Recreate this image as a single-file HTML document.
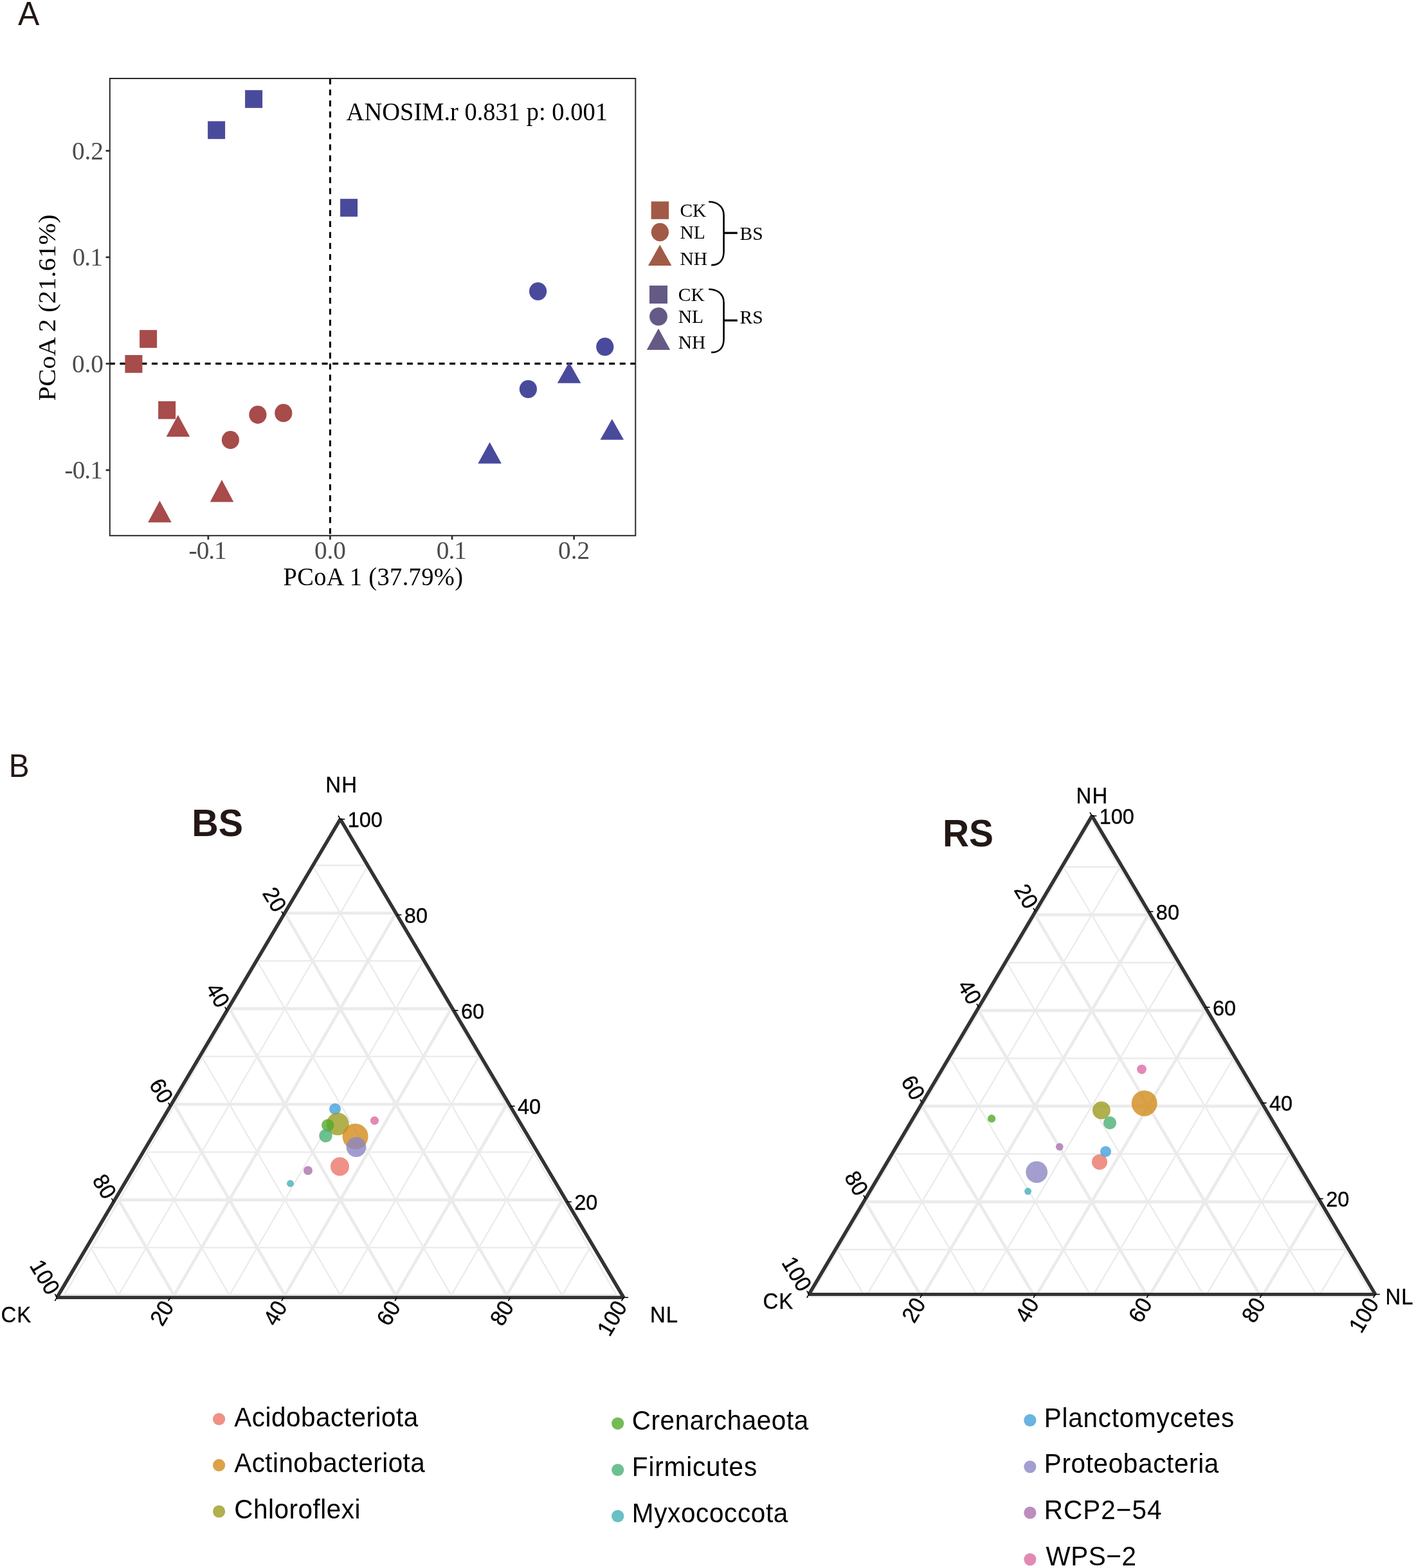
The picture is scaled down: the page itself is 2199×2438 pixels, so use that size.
<!DOCTYPE html>
<html lang="en">
<head>
<meta charset="utf-8">
<title>PCoA and ternary plots</title>
<style>
html,body{margin:0;padding:0;background:#fff;}
html,body{width:2199px;height:2438px;}
svg{display:block;}
text{white-space:pre;}
</style>
</head>
<body>
<svg width="2199" height="2438" viewBox="0 0 2199 2438">
<rect x="0" y="0" width="2199" height="2438" fill="#ffffff"/>
<g id="panelA">
<line x1="513.45" y1="122.0" x2="513.45" y2="832.8" stroke="#000" stroke-width="3.1" stroke-dasharray="9.2 7.85" stroke-dashoffset="16.95"/>
<line x1="170.8" y1="565.45" x2="988.3" y2="565.45" stroke="#000" stroke-width="3.2" stroke-dasharray="9 7.54" stroke-dashoffset="0.99"/>
<rect x="217.10" y="513.15" width="27.00" height="27.70" fill="#a74b4b"/>
<rect x="194.40" y="552.05" width="27.00" height="27.70" fill="#a74b4b"/>
<rect x="246.10" y="623.85" width="27.00" height="27.70" fill="#a74b4b"/>
<rect x="381.10" y="140.15" width="27.00" height="27.70" fill="#4a4a9d"/>
<rect x="323.10" y="188.45" width="27.00" height="27.70" fill="#4a4a9d"/>
<rect x="529.10" y="309.15" width="27.00" height="27.70" fill="#4a4a9d"/>
<ellipse cx="358.40" cy="684.10" rx="13.60" ry="14.10" fill="#a74b4b"/>
<ellipse cx="400.90" cy="644.80" rx="13.60" ry="14.10" fill="#a74b4b"/>
<ellipse cx="440.80" cy="642.20" rx="13.60" ry="14.10" fill="#a74b4b"/>
<ellipse cx="836.60" cy="453.00" rx="13.60" ry="14.10" fill="#4a4a9d"/>
<ellipse cx="940.80" cy="539.20" rx="13.60" ry="14.10" fill="#4a4a9d"/>
<ellipse cx="821.40" cy="605.00" rx="13.60" ry="14.10" fill="#4a4a9d"/>
<polygon points="276.90,645.20 295.20,679.10 258.60,679.10" fill="#a74b4b"/>
<polygon points="345.00,746.10 363.30,780.40 326.70,780.40" fill="#a74b4b"/>
<polygon points="248.40,778.40 266.70,812.30 230.10,812.30" fill="#a74b4b"/>
<polygon points="885.10,563.30 903.40,595.80 866.80,595.80" fill="#4a4a9d"/>
<polygon points="951.80,651.40 970.10,683.80 933.50,683.80" fill="#4a4a9d"/>
<polygon points="761.60,687.60 779.90,720.80 743.30,720.80" fill="#4a4a9d"/>
<rect x="170.8" y="122.0" width="817.50" height="710.80" fill="none" stroke="#2a2a2a" stroke-width="2"/>
<line x1="323.85" y1="832.8" x2="323.85" y2="839.0" stroke="#333" stroke-width="2.8"/>
<text transform="translate(322.65 869.2) scale(1 1.04)" font-family='"Liberation Serif", "DejaVu Serif", serif' font-size="39.3" fill="#4d4d4d" text-anchor="middle" letter-spacing="-1.0">-0.1</text>
<line x1="513.45" y1="832.8" x2="513.45" y2="839.0" stroke="#333" stroke-width="2.8"/>
<text transform="translate(513.45 869.2) scale(1 1.04)" font-family='"Liberation Serif", "DejaVu Serif", serif' font-size="39.3" fill="#4d4d4d" text-anchor="middle">0.0</text>
<line x1="703.05" y1="832.8" x2="703.05" y2="839.0" stroke="#333" stroke-width="2.8"/>
<text transform="translate(701.85 869.2) scale(1 1.04)" font-family='"Liberation Serif", "DejaVu Serif", serif' font-size="39.3" fill="#4d4d4d" text-anchor="middle" letter-spacing="-1.0">0.1</text>
<line x1="892.65" y1="832.8" x2="892.65" y2="839.0" stroke="#333" stroke-width="2.8"/>
<text transform="translate(892.65 869.2) scale(1 1.04)" font-family='"Liberation Serif", "DejaVu Serif", serif' font-size="39.3" fill="#4d4d4d" text-anchor="middle">0.2</text>
<line x1="164.60000000000002" y1="730.95" x2="170.8" y2="730.95" stroke="#333" stroke-width="2.8"/>
<text transform="translate(158.80 744.35) scale(1 1.04)" font-family='"Liberation Serif", "DejaVu Serif", serif' font-size="39.3" fill="#4d4d4d" text-anchor="end" letter-spacing="-1.0">-0.1</text>
<line x1="164.60000000000002" y1="565.45" x2="170.8" y2="565.45" stroke="#333" stroke-width="2.8"/>
<text transform="translate(161.00 578.85) scale(1 1.04)" font-family='"Liberation Serif", "DejaVu Serif", serif' font-size="39.3" fill="#4d4d4d" text-anchor="end">0.0</text>
<line x1="164.60000000000002" y1="399.95" x2="170.8" y2="399.95" stroke="#333" stroke-width="2.8"/>
<text transform="translate(158.80 413.35) scale(1 1.04)" font-family='"Liberation Serif", "DejaVu Serif", serif' font-size="39.3" fill="#4d4d4d" text-anchor="end" letter-spacing="-1.0">0.1</text>
<line x1="164.60000000000002" y1="234.45" x2="170.8" y2="234.45" stroke="#333" stroke-width="2.8"/>
<text transform="translate(161.00 247.85) scale(1 1.04)" font-family='"Liberation Serif", "DejaVu Serif", serif' font-size="39.3" fill="#4d4d4d" text-anchor="end">0.2</text>
<text transform="translate(580.4 910.2) scale(1 1.04)" font-family='"Liberation Serif", "DejaVu Serif", serif' font-size="38.5" fill="#000" text-anchor="middle" letter-spacing="0.34">PCoA 1 (37.79%)</text>
<text transform="translate(86.4 478.4) rotate(-90) scale(1.055 1)" font-family='"Liberation Serif", "DejaVu Serif", serif' font-size="38.5" fill="#000" text-anchor="middle">PCoA 2 (21.61%)</text>
<text transform="translate(538.6 187.3) scale(1 1.04)" font-family='"Liberation Serif", "DejaVu Serif", serif' font-size="38.5" fill="#000">ANOSIM.r 0.831 p: 0.001</text>
<rect x="1012.65" y="313.25" width="27.50" height="27.50" fill="#a15a46"/>
<ellipse cx="1026.40" cy="361.00" rx="13.60" ry="14.30" fill="#a15a46"/>
<polygon points="1026.20,380.60 1044.45,413.00 1007.95,413.00" fill="#a15a46"/>
<rect x="1010.00" y="444.00" width="28.00" height="28.00" fill="#655a86"/>
<ellipse cx="1024.00" cy="492.20" rx="13.90" ry="14.10" fill="#655a86"/>
<polygon points="1024.00,510.80 1042.25,544.00 1005.75,544.00" fill="#655a86"/>
<text x="1057.4" y="336.9" font-family='"Liberation Serif", "DejaVu Serif", serif' font-size="29.5" fill="#000">CK</text>
<text x="1057.4" y="371.0" font-family='"Liberation Serif", "DejaVu Serif", serif' font-size="29.5" fill="#000">NL</text>
<text x="1057.4" y="411.6" font-family='"Liberation Serif", "DejaVu Serif", serif' font-size="29.5" fill="#000">NH</text>
<text x="1054.8" y="467.5" font-family='"Liberation Serif", "DejaVu Serif", serif' font-size="29.5" fill="#000">CK</text>
<text x="1054.8" y="501.5" font-family='"Liberation Serif", "DejaVu Serif", serif' font-size="29.5" fill="#000">NL</text>
<text x="1054.8" y="542.4" font-family='"Liberation Serif", "DejaVu Serif", serif' font-size="29.5" fill="#000">NH</text>
<text x="1150.6" y="373.0" font-family='"Liberation Serif", "DejaVu Serif", serif' font-size="29.5" fill="#000">BS</text>
<text x="1150.6" y="502.9" font-family='"Liberation Serif", "DejaVu Serif", serif' font-size="29.5" fill="#000">RS</text>
<path d="M1102.2,313.8 C1114.2,313.8 1125.6,319.8 1125.6,334.8 L1125.6,391.1 C1125.6,406.1 1117.2,412.1 1106.2,412.1" fill="none" stroke="#000" stroke-width="2.6"/>
<line x1="1125.6" y1="362.2" x2="1146.8" y2="362.2" stroke="#000" stroke-width="3.2"/>
<path d="M1102.2,449.7 C1114.2,449.7 1125.6,455.7 1125.6,470.7 L1125.6,526.9 C1125.6,541.9 1117.2,547.9 1106.2,547.9" fill="none" stroke="#000" stroke-width="2.6"/>
<line x1="1125.6" y1="498.2" x2="1146.8" y2="498.2" stroke="#000" stroke-width="3.2"/>
</g>
<text transform="translate(44.6 39.0) scale(0.96 1)" font-family='"Liberation Sans", "DejaVu Sans", sans-serif' font-size="52" fill="#231815" text-anchor="middle">A</text>
<text transform="translate(13.7 1207.6) scale(0.955 1)" font-family='"Liberation Sans", "DejaVu Sans", sans-serif' font-size="50" fill="#231815">B</text>
<g id="ternBS">
<polygon points="100.36,2012.90 958.24,2012.90 529.30,1273.80" fill="none" stroke="#ebebeb" stroke-width="2.3" stroke-linejoin="miter"/>
<line x1="141.22" y1="1939.90" x2="917.38" y2="1939.90" stroke="#ebebeb" stroke-width="2.3"/>
<line x1="184.34" y1="2014.20" x2="572.42" y2="1345.50" stroke="#ebebeb" stroke-width="2.3"/>
<line x1="874.26" y1="2014.20" x2="486.18" y2="1345.50" stroke="#ebebeb" stroke-width="2.3"/>
<line x1="227.46" y1="1791.30" x2="831.14" y2="1791.30" stroke="#ebebeb" stroke-width="2.3"/>
<line x1="356.82" y1="2014.20" x2="658.66" y2="1494.10" stroke="#ebebeb" stroke-width="2.3"/>
<line x1="701.78" y1="2014.20" x2="399.94" y2="1494.10" stroke="#ebebeb" stroke-width="2.3"/>
<line x1="313.70" y1="1642.70" x2="744.90" y2="1642.70" stroke="#ebebeb" stroke-width="2.3"/>
<line x1="529.30" y1="2014.20" x2="744.90" y2="1642.70" stroke="#ebebeb" stroke-width="2.3"/>
<line x1="529.30" y1="2014.20" x2="313.70" y2="1642.70" stroke="#ebebeb" stroke-width="2.3"/>
<line x1="399.94" y1="1494.10" x2="658.66" y2="1494.10" stroke="#ebebeb" stroke-width="2.3"/>
<line x1="701.78" y1="2014.20" x2="831.14" y2="1791.30" stroke="#ebebeb" stroke-width="2.3"/>
<line x1="356.82" y1="2014.20" x2="227.46" y2="1791.30" stroke="#ebebeb" stroke-width="2.3"/>
<line x1="486.18" y1="1345.50" x2="572.42" y2="1345.50" stroke="#ebebeb" stroke-width="2.3"/>
<line x1="874.26" y1="2014.20" x2="917.38" y2="1939.90" stroke="#ebebeb" stroke-width="2.3"/>
<line x1="184.34" y1="2014.20" x2="141.22" y2="1939.90" stroke="#ebebeb" stroke-width="2.3"/>
<line x1="184.34" y1="1865.60" x2="874.26" y2="1865.60" stroke="#ebebeb" stroke-width="4.6"/>
<line x1="270.58" y1="2014.20" x2="615.54" y2="1419.80" stroke="#ebebeb" stroke-width="4.6"/>
<line x1="788.02" y1="2014.20" x2="443.06" y2="1419.80" stroke="#ebebeb" stroke-width="4.6"/>
<line x1="270.58" y1="1717.00" x2="788.02" y2="1717.00" stroke="#ebebeb" stroke-width="4.6"/>
<line x1="443.06" y1="2014.20" x2="701.78" y2="1568.40" stroke="#ebebeb" stroke-width="4.6"/>
<line x1="615.54" y1="2014.20" x2="356.82" y2="1568.40" stroke="#ebebeb" stroke-width="4.6"/>
<line x1="356.82" y1="1568.40" x2="701.78" y2="1568.40" stroke="#ebebeb" stroke-width="4.6"/>
<line x1="615.54" y1="2014.20" x2="788.02" y2="1717.00" stroke="#ebebeb" stroke-width="4.6"/>
<line x1="443.06" y1="2014.20" x2="270.58" y2="1717.00" stroke="#ebebeb" stroke-width="4.6"/>
<line x1="443.06" y1="1419.80" x2="615.54" y2="1419.80" stroke="#ebebeb" stroke-width="4.6"/>
<line x1="788.02" y1="2014.20" x2="874.26" y2="1865.60" stroke="#ebebeb" stroke-width="4.6"/>
<line x1="270.58" y1="2014.20" x2="184.34" y2="1865.60" stroke="#ebebeb" stroke-width="4.6"/>
<circle cx="521.00" cy="1724.40" r="9.00" fill="#45a0dc" fill-opacity="0.8"/>
<circle cx="525.20" cy="1747.70" r="17.60" fill="#9c9c22" fill-opacity="0.8"/>
<circle cx="509.80" cy="1749.70" r="9.70" fill="#53aa2b" fill-opacity="0.8"/>
<circle cx="506.50" cy="1765.90" r="10.30" fill="#4ab074" fill-opacity="0.8"/>
<circle cx="552.60" cy="1767.00" r="20.00" fill="#d28b19" fill-opacity="0.8"/>
<circle cx="554.00" cy="1783.50" r="15.40" fill="#8b86c4" fill-opacity="0.8"/>
<circle cx="582.50" cy="1742.40" r="6.60" fill="#dc6ca2" fill-opacity="0.8"/>
<circle cx="528.50" cy="1813.80" r="14.50" fill="#eb7668" fill-opacity="0.8"/>
<circle cx="479.00" cy="1820.00" r="7.00" fill="#aa72ae" fill-opacity="0.8"/>
<circle cx="451.50" cy="1840.20" r="5.50" fill="#45b0b6" fill-opacity="0.8"/>
<polygon points="88.6,2017.35 969.8,2017.35 529.2,1273.7" fill="none" stroke="#333333" stroke-width="5.05" stroke-linejoin="bevel"/>
<line x1="88.60" y1="2017.35" x2="529.20" y2="1273.70" stroke="#333333" stroke-width="5.2"/>
<line x1="969.80" y1="2017.35" x2="529.20" y2="1273.70" stroke="#333333" stroke-width="5.2"/>
<line x1="969.80" y1="2017.35" x2="976.90" y2="2017.35" stroke="#000" stroke-width="1.6"/>
<line x1="529.20" y1="1273.70" x2="525.99" y2="1268.28" stroke="#000" stroke-width="1.6"/>
<line x1="88.60" y1="2017.35" x2="85.39" y2="2022.77" stroke="#000" stroke-width="1.6"/>
<line x1="881.68" y1="1868.62" x2="888.78" y2="1868.62" stroke="#000" stroke-width="1.6"/>
<text x="893.18" y="1881.02" font-family='"Liberation Sans", "DejaVu Sans", sans-serif' font-size="32.5" fill="#000" stroke="#000" stroke-width="0.35">20</text>
<line x1="441.08" y1="1422.43" x2="437.87" y2="1417.01" stroke="#000" stroke-width="1.6"/>
<text transform="translate(426.09 1420.69) rotate(59.35) scale(1 1.05)" font-family='"Liberation Sans", "DejaVu Sans", sans-serif' font-size="33.3" fill="#000" stroke="#000" stroke-width="0.35" text-anchor="end">20</text>
<line x1="264.84" y1="2017.35" x2="261.63" y2="2022.77" stroke="#000" stroke-width="1.6"/>
<text transform="translate(271.35 2031.89) rotate(-59.35) scale(1 1.05)" font-family='"Liberation Sans", "DejaVu Sans", sans-serif' font-size="33.3" fill="#000" stroke="#000" stroke-width="0.35" text-anchor="end">20</text>
<line x1="793.56" y1="1719.89" x2="800.66" y2="1719.89" stroke="#000" stroke-width="1.6"/>
<text x="805.06" y="1732.29" font-family='"Liberation Sans", "DejaVu Sans", sans-serif' font-size="32.5" fill="#000" stroke="#000" stroke-width="0.35">40</text>
<line x1="352.96" y1="1571.16" x2="349.75" y2="1565.74" stroke="#000" stroke-width="1.6"/>
<text transform="translate(337.97 1569.42) rotate(59.35) scale(1 1.05)" font-family='"Liberation Sans", "DejaVu Sans", sans-serif' font-size="33.3" fill="#000" stroke="#000" stroke-width="0.35" text-anchor="end">40</text>
<line x1="441.08" y1="2017.35" x2="437.87" y2="2022.77" stroke="#000" stroke-width="1.6"/>
<text transform="translate(447.59 2031.89) rotate(-59.35) scale(1 1.05)" font-family='"Liberation Sans", "DejaVu Sans", sans-serif' font-size="33.3" fill="#000" stroke="#000" stroke-width="0.35" text-anchor="end">40</text>
<line x1="705.44" y1="1571.16" x2="712.54" y2="1571.16" stroke="#000" stroke-width="1.6"/>
<text x="716.94" y="1583.56" font-family='"Liberation Sans", "DejaVu Sans", sans-serif' font-size="32.5" fill="#000" stroke="#000" stroke-width="0.35">60</text>
<line x1="264.84" y1="1719.89" x2="261.63" y2="1714.47" stroke="#000" stroke-width="1.6"/>
<text transform="translate(249.85 1718.15) rotate(59.35) scale(1 1.05)" font-family='"Liberation Sans", "DejaVu Sans", sans-serif' font-size="33.3" fill="#000" stroke="#000" stroke-width="0.35" text-anchor="end">60</text>
<line x1="617.32" y1="2017.35" x2="614.11" y2="2022.77" stroke="#000" stroke-width="1.6"/>
<text transform="translate(623.83 2031.89) rotate(-59.35) scale(1 1.05)" font-family='"Liberation Sans", "DejaVu Sans", sans-serif' font-size="33.3" fill="#000" stroke="#000" stroke-width="0.35" text-anchor="end">60</text>
<line x1="617.32" y1="1422.43" x2="624.42" y2="1422.43" stroke="#000" stroke-width="1.6"/>
<text x="628.82" y="1434.83" font-family='"Liberation Sans", "DejaVu Sans", sans-serif' font-size="32.5" fill="#000" stroke="#000" stroke-width="0.35">80</text>
<line x1="176.72" y1="1868.62" x2="173.51" y2="1863.20" stroke="#000" stroke-width="1.6"/>
<text transform="translate(161.73 1866.88) rotate(59.35) scale(1 1.05)" font-family='"Liberation Sans", "DejaVu Sans", sans-serif' font-size="33.3" fill="#000" stroke="#000" stroke-width="0.35" text-anchor="end">80</text>
<line x1="793.56" y1="2017.35" x2="790.35" y2="2022.77" stroke="#000" stroke-width="1.6"/>
<text transform="translate(800.07 2031.89) rotate(-59.35) scale(1 1.05)" font-family='"Liberation Sans", "DejaVu Sans", sans-serif' font-size="33.3" fill="#000" stroke="#000" stroke-width="0.35" text-anchor="end">80</text>
<line x1="529.20" y1="1273.70" x2="536.30" y2="1273.70" stroke="#000" stroke-width="1.6"/>
<text x="540.70" y="1286.10" font-family='"Liberation Sans", "DejaVu Sans", sans-serif' font-size="32.5" fill="#000" stroke="#000" stroke-width="0.35">100</text>
<line x1="88.60" y1="2017.35" x2="85.39" y2="2011.93" stroke="#000" stroke-width="1.6"/>
<text transform="translate(73.61 2015.61) rotate(59.35) scale(1 1.05)" font-family='"Liberation Sans", "DejaVu Sans", sans-serif' font-size="33.3" fill="#000" stroke="#000" stroke-width="0.35" text-anchor="end">100</text>
<line x1="969.80" y1="2017.35" x2="966.59" y2="2022.77" stroke="#000" stroke-width="1.6"/>
<text transform="translate(976.31 2031.89) rotate(-59.35) scale(1 1.05)" font-family='"Liberation Sans", "DejaVu Sans", sans-serif' font-size="33.3" fill="#000" stroke="#000" stroke-width="0.35" text-anchor="end">100</text>
<text transform="translate(506.3 1231.9) scale(1 1.045)" font-family='"Liberation Sans", "DejaVu Sans", sans-serif' font-size="33.0" fill="#000" stroke="#000" stroke-width="0.3" letter-spacing="1.0">NH</text>
<text transform="translate(1.5 2056.3) scale(1 1.045)" font-family='"Liberation Sans", "DejaVu Sans", sans-serif' font-size="33.0" fill="#000" stroke="#000" stroke-width="0.3" letter-spacing="1.0">CK</text>
<text transform="translate(1011.0 2055.6) scale(1 1.045)" font-family='"Liberation Sans", "DejaVu Sans", sans-serif' font-size="33.0" fill="#000" stroke="#000" stroke-width="0.3" letter-spacing="1.0">NL</text>
<text transform="translate(298.3 1300.4) scale(0.965 1)" font-family='"Liberation Sans", "DejaVu Sans", sans-serif' font-size="59.5" font-weight="bold" fill="#231815">BS</text>
</g>
<g id="ternRS">
<polygon points="1260.11,2016.10 2135.49,2016.10 1697.80,1276.20" fill="none" stroke="#ebebeb" stroke-width="2.3" stroke-linejoin="miter"/>
<line x1="1301.80" y1="1943.02" x2="2093.80" y2="1943.02" stroke="#ebebeb" stroke-width="2.3"/>
<line x1="1345.80" y1="2017.40" x2="1741.80" y2="1347.98" stroke="#ebebeb" stroke-width="2.3"/>
<line x1="2049.80" y1="2017.40" x2="1653.80" y2="1347.98" stroke="#ebebeb" stroke-width="2.3"/>
<line x1="1389.80" y1="1794.26" x2="2005.80" y2="1794.26" stroke="#ebebeb" stroke-width="2.3"/>
<line x1="1521.80" y1="2017.40" x2="1829.80" y2="1496.74" stroke="#ebebeb" stroke-width="2.3"/>
<line x1="1873.80" y1="2017.40" x2="1565.80" y2="1496.74" stroke="#ebebeb" stroke-width="2.3"/>
<line x1="1477.80" y1="1645.50" x2="1917.80" y2="1645.50" stroke="#ebebeb" stroke-width="2.3"/>
<line x1="1697.80" y1="2017.40" x2="1917.80" y2="1645.50" stroke="#ebebeb" stroke-width="2.3"/>
<line x1="1697.80" y1="2017.40" x2="1477.80" y2="1645.50" stroke="#ebebeb" stroke-width="2.3"/>
<line x1="1565.80" y1="1496.74" x2="1829.80" y2="1496.74" stroke="#ebebeb" stroke-width="2.3"/>
<line x1="1873.80" y1="2017.40" x2="2005.80" y2="1794.26" stroke="#ebebeb" stroke-width="2.3"/>
<line x1="1521.80" y1="2017.40" x2="1389.80" y2="1794.26" stroke="#ebebeb" stroke-width="2.3"/>
<line x1="1653.80" y1="1347.98" x2="1741.80" y2="1347.98" stroke="#ebebeb" stroke-width="2.3"/>
<line x1="2049.80" y1="2017.40" x2="2093.80" y2="1943.02" stroke="#ebebeb" stroke-width="2.3"/>
<line x1="1345.80" y1="2017.40" x2="1301.80" y2="1943.02" stroke="#ebebeb" stroke-width="2.3"/>
<line x1="1345.80" y1="1868.64" x2="2049.80" y2="1868.64" stroke="#ebebeb" stroke-width="4.6"/>
<line x1="1433.80" y1="2017.40" x2="1785.80" y2="1422.36" stroke="#ebebeb" stroke-width="4.6"/>
<line x1="1961.80" y1="2017.40" x2="1609.80" y2="1422.36" stroke="#ebebeb" stroke-width="4.6"/>
<line x1="1433.80" y1="1719.88" x2="1961.80" y2="1719.88" stroke="#ebebeb" stroke-width="4.6"/>
<line x1="1609.80" y1="2017.40" x2="1873.80" y2="1571.12" stroke="#ebebeb" stroke-width="4.6"/>
<line x1="1785.80" y1="2017.40" x2="1521.80" y2="1571.12" stroke="#ebebeb" stroke-width="4.6"/>
<line x1="1521.80" y1="1571.12" x2="1873.80" y2="1571.12" stroke="#ebebeb" stroke-width="4.6"/>
<line x1="1785.80" y1="2017.40" x2="1961.80" y2="1719.88" stroke="#ebebeb" stroke-width="4.6"/>
<line x1="1609.80" y1="2017.40" x2="1433.80" y2="1719.88" stroke="#ebebeb" stroke-width="4.6"/>
<line x1="1609.80" y1="1422.36" x2="1785.80" y2="1422.36" stroke="#ebebeb" stroke-width="4.6"/>
<line x1="1961.80" y1="2017.40" x2="2049.80" y2="1868.64" stroke="#ebebeb" stroke-width="4.6"/>
<line x1="1433.80" y1="2017.40" x2="1345.80" y2="1868.64" stroke="#ebebeb" stroke-width="4.6"/>
<circle cx="1775.50" cy="1662.60" r="7.40" fill="#dc6ca2" fill-opacity="0.8"/>
<circle cx="1779.70" cy="1715.40" r="20.00" fill="#d28b19" fill-opacity="0.8"/>
<circle cx="1712.90" cy="1726.40" r="13.90" fill="#9c9c22" fill-opacity="0.8"/>
<circle cx="1726.00" cy="1745.90" r="10.10" fill="#4ab074" fill-opacity="0.8"/>
<circle cx="1542.10" cy="1739.30" r="6.20" fill="#53aa2b" fill-opacity="0.8"/>
<circle cx="1647.80" cy="1783.10" r="5.90" fill="#aa72ae" fill-opacity="0.8"/>
<circle cx="1710.00" cy="1806.80" r="12.10" fill="#eb7668" fill-opacity="0.8"/>
<circle cx="1719.50" cy="1790.50" r="8.60" fill="#45a0dc" fill-opacity="0.8"/>
<circle cx="1612.20" cy="1822.40" r="16.90" fill="#8b86c4" fill-opacity="0.8"/>
<circle cx="1598.60" cy="1852.30" r="5.50" fill="#45b0b6" fill-opacity="0.8"/>
<polygon points="1258.0,2012.5 2138.8,2012.5 1698.2,1268.6" fill="none" stroke="#333333" stroke-width="5.05" stroke-linejoin="bevel"/>
<line x1="1258.00" y1="2012.50" x2="1698.20" y2="1268.60" stroke="#333333" stroke-width="5.2"/>
<line x1="2138.80" y1="2012.50" x2="1698.20" y2="1268.60" stroke="#333333" stroke-width="5.2"/>
<line x1="2138.80" y1="2012.50" x2="2145.90" y2="2012.50" stroke="#000" stroke-width="1.6"/>
<line x1="1698.20" y1="1268.60" x2="1694.99" y2="1263.18" stroke="#000" stroke-width="1.6"/>
<line x1="1258.00" y1="2012.50" x2="1254.79" y2="2017.92" stroke="#000" stroke-width="1.6"/>
<line x1="2050.68" y1="1863.72" x2="2057.78" y2="1863.72" stroke="#000" stroke-width="1.6"/>
<text x="2062.18" y="1876.12" font-family='"Liberation Sans", "DejaVu Sans", sans-serif' font-size="32.5" fill="#000" stroke="#000" stroke-width="0.35">20</text>
<line x1="1610.16" y1="1417.38" x2="1606.95" y2="1411.96" stroke="#000" stroke-width="1.6"/>
<text transform="translate(1595.17 1415.64) rotate(59.36) scale(1 1.05)" font-family='"Liberation Sans", "DejaVu Sans", sans-serif' font-size="33.3" fill="#000" stroke="#000" stroke-width="0.35" text-anchor="end">20</text>
<line x1="1434.16" y1="2012.50" x2="1430.95" y2="2017.92" stroke="#000" stroke-width="1.6"/>
<text transform="translate(1440.68 2027.05) rotate(-59.39) scale(1 1.05)" font-family='"Liberation Sans", "DejaVu Sans", sans-serif' font-size="33.3" fill="#000" stroke="#000" stroke-width="0.35" text-anchor="end">20</text>
<line x1="1962.56" y1="1714.94" x2="1969.66" y2="1714.94" stroke="#000" stroke-width="1.6"/>
<text x="1974.06" y="1727.34" font-family='"Liberation Sans", "DejaVu Sans", sans-serif' font-size="32.5" fill="#000" stroke="#000" stroke-width="0.35">40</text>
<line x1="1522.12" y1="1566.16" x2="1518.91" y2="1560.74" stroke="#000" stroke-width="1.6"/>
<text transform="translate(1507.13 1564.42) rotate(59.36) scale(1 1.05)" font-family='"Liberation Sans", "DejaVu Sans", sans-serif' font-size="33.3" fill="#000" stroke="#000" stroke-width="0.35" text-anchor="end">40</text>
<line x1="1610.32" y1="2012.50" x2="1607.11" y2="2017.92" stroke="#000" stroke-width="1.6"/>
<text transform="translate(1616.84 2027.05) rotate(-59.39) scale(1 1.05)" font-family='"Liberation Sans", "DejaVu Sans", sans-serif' font-size="33.3" fill="#000" stroke="#000" stroke-width="0.35" text-anchor="end">40</text>
<line x1="1874.44" y1="1566.16" x2="1881.54" y2="1566.16" stroke="#000" stroke-width="1.6"/>
<text x="1885.94" y="1578.56" font-family='"Liberation Sans", "DejaVu Sans", sans-serif' font-size="32.5" fill="#000" stroke="#000" stroke-width="0.35">60</text>
<line x1="1434.08" y1="1714.94" x2="1430.87" y2="1709.52" stroke="#000" stroke-width="1.6"/>
<text transform="translate(1419.09 1713.20) rotate(59.36) scale(1 1.05)" font-family='"Liberation Sans", "DejaVu Sans", sans-serif' font-size="33.3" fill="#000" stroke="#000" stroke-width="0.35" text-anchor="end">60</text>
<line x1="1786.48" y1="2012.50" x2="1783.27" y2="2017.92" stroke="#000" stroke-width="1.6"/>
<text transform="translate(1793.00 2027.05) rotate(-59.39) scale(1 1.05)" font-family='"Liberation Sans", "DejaVu Sans", sans-serif' font-size="33.3" fill="#000" stroke="#000" stroke-width="0.35" text-anchor="end">60</text>
<line x1="1786.32" y1="1417.38" x2="1793.42" y2="1417.38" stroke="#000" stroke-width="1.6"/>
<text x="1797.82" y="1429.78" font-family='"Liberation Sans", "DejaVu Sans", sans-serif' font-size="32.5" fill="#000" stroke="#000" stroke-width="0.35">80</text>
<line x1="1346.04" y1="1863.72" x2="1342.83" y2="1858.30" stroke="#000" stroke-width="1.6"/>
<text transform="translate(1331.05 1861.98) rotate(59.36) scale(1 1.05)" font-family='"Liberation Sans", "DejaVu Sans", sans-serif' font-size="33.3" fill="#000" stroke="#000" stroke-width="0.35" text-anchor="end">80</text>
<line x1="1962.64" y1="2012.50" x2="1959.43" y2="2017.92" stroke="#000" stroke-width="1.6"/>
<text transform="translate(1969.16 2027.05) rotate(-59.39) scale(1 1.05)" font-family='"Liberation Sans", "DejaVu Sans", sans-serif' font-size="33.3" fill="#000" stroke="#000" stroke-width="0.35" text-anchor="end">80</text>
<line x1="1698.20" y1="1268.60" x2="1705.30" y2="1268.60" stroke="#000" stroke-width="1.6"/>
<text x="1709.70" y="1281.00" font-family='"Liberation Sans", "DejaVu Sans", sans-serif' font-size="32.5" fill="#000" stroke="#000" stroke-width="0.35">100</text>
<line x1="1258.00" y1="2012.50" x2="1254.79" y2="2007.08" stroke="#000" stroke-width="1.6"/>
<text transform="translate(1243.01 2010.76) rotate(59.36) scale(1 1.05)" font-family='"Liberation Sans", "DejaVu Sans", sans-serif' font-size="33.3" fill="#000" stroke="#000" stroke-width="0.35" text-anchor="end">100</text>
<line x1="2138.80" y1="2012.50" x2="2135.59" y2="2017.92" stroke="#000" stroke-width="1.6"/>
<text transform="translate(2145.32 2027.05) rotate(-59.39) scale(1 1.05)" font-family='"Liberation Sans", "DejaVu Sans", sans-serif' font-size="33.3" fill="#000" stroke="#000" stroke-width="0.35" text-anchor="end">100</text>
<text transform="translate(1673.6 1248.8) scale(1 1.045)" font-family='"Liberation Sans", "DejaVu Sans", sans-serif' font-size="33.0" fill="#000" stroke="#000" stroke-width="0.3" letter-spacing="1.0">NH</text>
<text transform="translate(1186.5 2035.2) scale(1 1.045)" font-family='"Liberation Sans", "DejaVu Sans", sans-serif' font-size="33.0" fill="#000" stroke="#000" stroke-width="0.3" letter-spacing="1.0">CK</text>
<text transform="translate(2154.4 2028.3) scale(1 1.045)" font-family='"Liberation Sans", "DejaVu Sans", sans-serif' font-size="33.0" fill="#000" stroke="#000" stroke-width="0.3" letter-spacing="1.0">NL</text>
<text transform="translate(1466.0 1316.4) scale(0.965 1)" font-family='"Liberation Sans", "DejaVu Sans", sans-serif' font-size="59" font-weight="bold" fill="#231815">RS</text>
</g>
<g id="legend">
<circle cx="340.60" cy="2206.50" r="9.60" fill="#ef9186"/>
<text transform="translate(364.3 2217.6) scale(1 1.045)" font-family='"Liberation Sans", "DejaVu Sans", sans-serif' font-size="40.5" fill="#000" letter-spacing="0.5">Acidobacteriota</text>
<circle cx="340.60" cy="2278.20" r="9.60" fill="#dba247"/>
<text transform="translate(364.3 2289.1) scale(1 1.045)" font-family='"Liberation Sans", "DejaVu Sans", sans-serif' font-size="40.5" fill="#000" letter-spacing="0.41">Actinobacteriota</text>
<circle cx="340.60" cy="2350.10" r="9.60" fill="#b0b04e"/>
<text transform="translate(364.3 2361.0) scale(1 1.045)" font-family='"Liberation Sans", "DejaVu Sans", sans-serif' font-size="40.5" fill="#000" letter-spacing="0.5">Chloroflexi</text>
<circle cx="960.70" cy="2213.30" r="9.60" fill="#75bb55"/>
<text transform="translate(982.8 2223.2) scale(1 1.045)" font-family='"Liberation Sans", "DejaVu Sans", sans-serif' font-size="40.5" fill="#000" letter-spacing="0.55">Crenarchaeota</text>
<circle cx="960.70" cy="2285.50" r="9.60" fill="#6ec090"/>
<text transform="translate(982.8 2295.1) scale(1 1.045)" font-family='"Liberation Sans", "DejaVu Sans", sans-serif' font-size="40.5" fill="#000" letter-spacing="0.85">Firmicutes</text>
<circle cx="960.70" cy="2357.40" r="9.60" fill="#6ac0c5"/>
<text transform="translate(982.8 2366.9) scale(1 1.045)" font-family='"Liberation Sans", "DejaVu Sans", sans-serif' font-size="40.5" fill="#000" letter-spacing="0.63">Myxococcota</text>
<circle cx="1601.90" cy="2208.40" r="9.60" fill="#6ab3e3"/>
<text transform="translate(1623.8 2218.6) scale(1 1.045)" font-family='"Liberation Sans", "DejaVu Sans", sans-serif' font-size="40.5" fill="#000" letter-spacing="0.74">Planctomycetes</text>
<circle cx="1601.90" cy="2280.60" r="9.60" fill="#a29ed0"/>
<text transform="translate(1623.8 2290.1) scale(1 1.045)" font-family='"Liberation Sans", "DejaVu Sans", sans-serif' font-size="40.5" fill="#000" letter-spacing="0.63">Proteobacteria</text>
<circle cx="1601.90" cy="2352.10" r="9.60" fill="#bb8ebe"/>
<text transform="translate(1623.8 2362.0) scale(1 1.045)" font-family='"Liberation Sans", "DejaVu Sans", sans-serif' font-size="40.5" fill="#000" letter-spacing="1.0">RCP2−54</text>
<circle cx="1601.90" cy="2424.60" r="9.60" fill="#e389b5"/>
<text transform="translate(1626.6 2433.8) scale(1 1.045)" font-family='"Liberation Sans", "DejaVu Sans", sans-serif' font-size="40.5" fill="#000" letter-spacing="0.5">WPS−2</text>
</g>
</svg>
</body>
</html>
